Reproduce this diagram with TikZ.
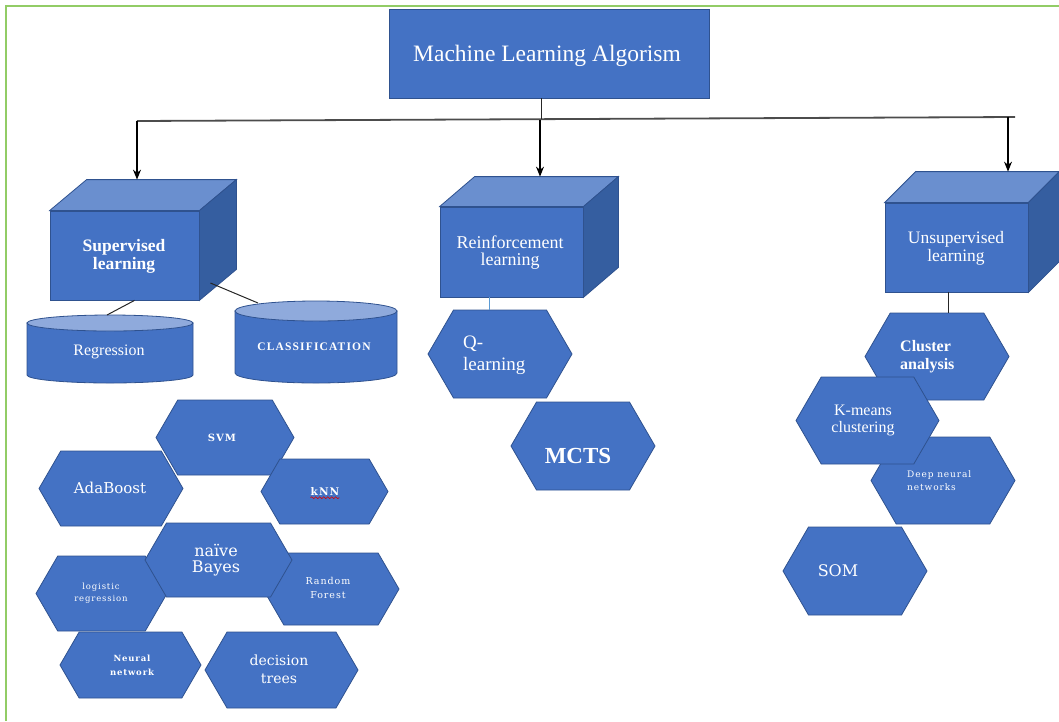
\documentclass[tikz,border=0pt]{standalone}
\usepackage{fontspec}
\setmainfont{Liberation Serif}
\newfontfamily\dvs{DejaVu Serif}
\newfontfamily\dvsw[LetterSpace=10]{DejaVu Serif}
\newfontfamily\libw[LetterSpace=10]{Liberation Serif}
\usetikzlibrary{calc,arrows.meta,decorations.pathmorphing}
\definecolor{blu}{HTML}{4472C4}
\definecolor{blubd}{HTML}{2F528F}
\definecolor{blutop}{HTML}{6A8FCF}
\definecolor{bluside}{HTML}{355EA0}
\definecolor{cyltop}{HTML}{8FAADC}
\definecolor{framegreen}{HTML}{92CC66}
\definecolor{lightline}{HTML}{5B9BD5}
\tikzset{
  box/.style={draw=blubd, fill=blu, line width=0.8pt, inner sep=0pt},
  topface/.style={draw=blubd, fill=blutop, line width=0.8pt},
  sideface/.style={draw=blubd, fill=bluside, line width=0.8pt},
  hexs/.style={draw=blubd, fill=blu, line width=0.8pt},
  hexn/.style={draw=none, inner sep=0pt, outer sep=0pt, rectangle},
  cylbody/.style={draw=blubd, fill=blu, line width=0.8pt},
  cyltopst/.style={draw=blubd, fill=cyltop, line width=0.8pt},
  lbl/.style={text=white, align=center, inner sep=0pt},
  lbll/.style={text=white, align=left, inner sep=0pt},
  arr/.style={-{Stealth[length=10pt,width=8pt]}, line width=1.1pt, black},
  link/.style={line width=1pt, black!85},
}
\newcommand{\hexa}[5]{%
  \node[hexn, minimum width={#4-#2}, minimum height={#5-#3}] (#1) at ({(#2+#4)/2},{-(#3+#5)/2}) {};
  \pgfmathsetmacro\hxi{0.29*(#5-#3)}
  \filldraw[hexs] (#1.west) -- ([xshift=\hxi pt]#1.north west) -- ([xshift=-\hxi pt]#1.north east) -- (#1.east) -- ([xshift=-\hxi pt]#1.south east) -- ([xshift=\hxi pt]#1.south west) -- cycle;
}
\newcommand{\cubefaces}[3]{% name, dx, dy
  \filldraw[topface] (#1.north west) -- ++(#2,#3) -- ($(#1.north east)+(#2,#3)$) -- (#1.north east) -- cycle;
  \filldraw[sideface] (#1.north east) -- ++(#2,#3) -- ($(#1.south east)+(#2,#3)$) -- (#1.south east) -- cycle;
}
\begin{document}
\begin{tikzpicture}[x=1pt,y=1pt]
\useasboundingbox (0,0) rectangle (1059,-721);
% frame
\draw[framegreen, line width=2pt] (6,-721) -- (6,-6) -- (1059,-6);

% top box
\node[box, minimum width=320, minimum height=89] (mla) at (549,-53.5) {};
\node[lbl, font=\fontsize{23.5}{26}\selectfont] (mlat) at (547,-56) {Machine Learning Algorism};

% cubes
\node[box, minimum width=149, minimum height=89] (sup) at (124.5,-255.5) {};
\cubefaces{sup}{37}{31}
\node[lbl, font=\fontsize{17.5}{18}\selectfont\bfseries] (supt) at (124,-256) {Supervised\\learning};

\node[box, minimum width=143, minimum height=90] (rl) at (511.5,-252) {};
\cubefaces{rl}{35}{30}
\node[lbl, font=\fontsize{18}{17}\selectfont] (rlt) at (510,-253) {Reinforcement\\learning};

\node[box, minimum width=143, minimum height=89] (usl) at (956.5,-247.5) {};
\cubefaces{usl}{31}{31}
\node[lbl, font=\fontsize{17.5}{18}\selectfont] (uslt) at (956,-248) {Unsupervised\\learning};

% bus and arrows
\coordinate (busL) at (137,-121);
\coordinate (busR) at (1015,-117);
\coordinate (busM) at (541,-119.2);
\draw[link, line width=1.8pt, black!70] (busL) -- (busR);
\draw[link] ($(mla.south)+(-8,0)$) -- (busM);
\coordinate (supTop) at ($(sup.north)+(12.5,31)$);
\coordinate (rlTop) at ($(rl.north)+(28.5,30)$);
\coordinate (uslTop) at ($(usl.north)+(51.5,31)$);
\draw[arr] (supTop |- busL) -- (supTop);
\draw[arr] ($(rlTop)+(0,57)$) -- (rlTop);
\draw[arr] ($(uslTop)+(0,55)$) -- (uslTop);

% cylinders
\filldraw[cylbody] (27,-323) -- (27,-375) arc[start angle=180,end angle=360,x radius=83,y radius=8] -- (193,-323) -- cycle;
\filldraw[cyltopst] (110,-323) ellipse[x radius=83, y radius=8];
\node[hexn, minimum width=166, minimum height=68] (reg) at (110,-349) {};
\node[lbl, font=\fontsize{16}{18}\selectfont] (regt) at (109,-352) {Regression};

\filldraw[cylbody] (235,-311) -- (235,-373) arc[start angle=180,end angle=360,x radius=81,y radius=10] -- (397,-311) -- cycle;
\filldraw[cyltopst] (316,-311) ellipse[x radius=81, y radius=10];
\node[hexn, minimum width=162, minimum height=82] (cls) at (316,-342) {};
\node[lbl, font=\libw\fontsize{11.5}{13}\selectfont\bfseries] (clst) at (314,-347) {CLASSIFICATION};

\draw[link] ($(sup.south)+(10,0)$) -- ($(reg.north)+(-3,0)$);
\draw[link] ($(sup.east)+(11,-27.5)$) -- ($(cls.north)+(-58,-2)$);

% reinforcement hexagons
\hexa{ql}{428}{310}{572}{398}
\node[lbll, font=\fontsize{19}{22}\selectfont, anchor=west] (qlt) at (463,-355) {Q-\\learning};
\hexa{mcts}{511}{402}{655}{490}
\node[lbl, font=\fontsize{23}{26}\selectfont\bfseries] (mctst) at (578,-456) {MCTS};
\draw[lightline, line width=1.2pt] ($(rl.south)+(-22,0)$) -- (ql.north -| {$(rl.south)+(-22,0)$});

% unsupervised hexagons
\hexa{ca}{865}{313}{1009}{400}
\node[lbll, font=\fontsize{16}{18}\selectfont\bfseries, anchor=west] (cat) at (900,-357) {Cluster\\analysis};
\hexa{dnn}{871}{437}{1015}{524}
\node[lbll, font=\dvsw\fontsize{9}{13}\selectfont, anchor=west] (dnnt) at (907,-481) {Deep neural\\networks};
\hexa{km}{796}{377}{939}{464}
\node[lbl, font=\fontsize{16}{17}\selectfont] (kmt) at (863,-420) {K-means\\clustering};
\hexa{som}{783}{527}{927}{615}
\node[lbl, font=\dvs\fontsize{16}{18}\selectfont] (somt) at (838,-571) {SOM};
\draw[link] ($(usl.south)+(-8.5,0)$) -- ($(ca.north)+(11,0)$);

% supervised hexagons
\hexa{svm}{156}{400}{294}{475}
\node[lbl, font=\dvsw\fontsize{10}{12}\selectfont\bfseries] (svmt) at (222,-438) {SVM};
\hexa{ada}{39}{451}{183}{526}
\node[lbl, font=\dvs\fontsize{15}{17}\selectfont] (adat) at (110,-488) {AdaBoost};
\hexa{knn}{261}{459}{388}{524}
\node[lbl, font=\dvsw\fontsize{10.5}{12}\selectfont\bfseries] (knnt) at (325,-491) {kNN};
\draw[red!85!black, line width=0.6pt, decorate, decoration={snake, amplitude=0.9pt, segment length=4pt}] ($(knnt.south west)+(0,-2.5)$) -- ($(knnt.south east)+(0,-2.5)$);
\hexa{lr}{36}{556}{167}{631}
\node[lbl, font=\dvsw\fontsize{8.5}{12}\selectfont] (lrt) at (101,-593) {logistic\\regression};
\hexa{rf}{263}{553}{399}{625}
\node[lbl, font=\dvsw\fontsize{9.5}{14}\selectfont] (rft) at (328,-588) {Random\\Forest};
\hexa{nb}{145}{523}{292}{597}
\node[lbl, font=\dvs\fontsize{16}{16}\selectfont] (nbt) at (216,-560) {naïve\\Bayes};
\hexa{nn}{60}{632}{201}{698}
\node[lbl, font=\dvsw\fontsize{8.5}{14}\selectfont\bfseries] (nnt) at (132,-665) {Neural\\network};
\hexa{dt}{205}{632}{358}{708}
\node[lbl, font=\dvs\fontsize{14}{18}\selectfont] (dtt) at (279,-669) {decision\\trees};
\end{tikzpicture}
\end{document}
